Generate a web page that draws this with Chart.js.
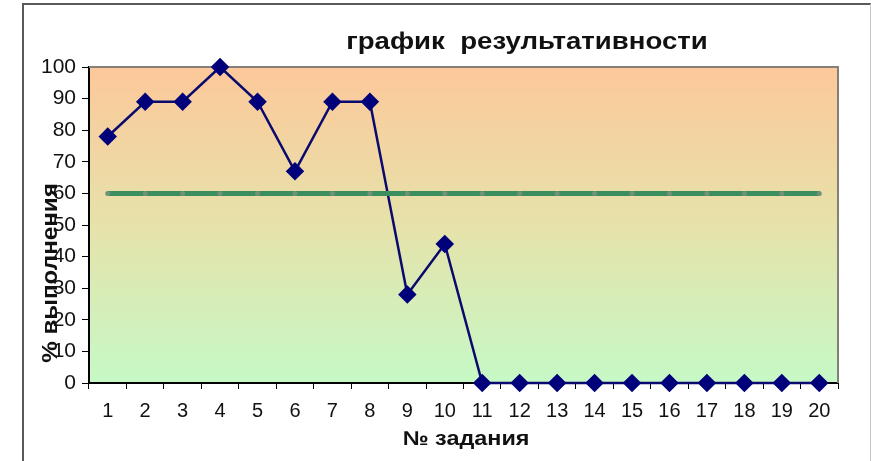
<!DOCTYPE html>
<html>
<head>
<meta charset="utf-8">
<script src="https://cdn.jsdelivr.net/npm/chart.js@4"></script>
<style>
    html, body { margin: 0; padding: 0; background: #ffffff; }
    #wrap { position: relative; width: 871px; height: 461px; }
    #frame { position: absolute; left: 22px; top: 3px; width: 846px; height: 470px;
             border-left: 2px solid #5a5a5a; border-top: 2px solid #5a5a5a; border-right: 1px solid #c8c8c8; }
    canvas { position: absolute; left: 0; top: 0; }
</style>
</head>
<body>
<div id="wrap">
    <div id="frame"></div>
    <canvas id="chart" width="871" height="461"></canvas>
</div>
<script>
// Chart data
var tasks = ["1", "2", "3", "4", "5", "6", "7", "8", "9", "10",
             "11", "12", "13", "14", "15", "16", "17", "18", "19", "20"];
var result = [78, 89, 89, 100, 89, 67, 89, 89, 28, 44, 0, 0, 0, 0, 0, 0, 0, 0, 0, 0];
var norm = [60, 60, 60, 60, 60, 60, 60, 60, 60, 60, 60, 60, 60, 60, 60, 60, 60, 60, 60, 60];
var yTicks = [0, 10, 20, 30, 40, 50, 60, 70, 80, 90, 100];

var titleText = "график  результативности";
var xTitle = "№ задания";
var yTitle = "% выполнения";

// draw text a bit stretched sideways, like the original picture
function wideText(ctx, text, x, y, sx) {
    ctx.save();
    ctx.translate(x, y);
    ctx.scale(sx, 1);
    ctx.fillText(text, 0, 0);
    ctx.restore();
}

// Background gradient + texts drawn on the canvas
var decor = {
    id: "decor",
    beforeDraw: function (chart) {
        var ctx = chart.ctx;
        var a = chart.chartArea;
        var g = ctx.createLinearGradient(0, a.top, 0, a.bottom);
        g.addColorStop(0, "#fdc89a");
        g.addColorStop(0.5, "#e6e2aa");
        g.addColorStop(1, "#c6f9c6");
        ctx.save();
        ctx.fillStyle = g;
        ctx.fillRect(a.left, a.top, a.right - a.left, a.bottom - a.top);
        ctx.restore();
    },
    beforeDatasetsDraw: function (chart) {
        var ctx = chart.ctx;
        var a = chart.chartArea;
        ctx.save();
        // plot border (top/right)
        ctx.strokeStyle = "#857f7a";
        ctx.lineWidth = 2;
        ctx.beginPath();
        ctx.moveTo(a.left, a.top);
        ctx.lineTo(a.right, a.top);
        ctx.lineTo(a.right, a.bottom);
        ctx.stroke();
        ctx.restore();
    },
    afterDraw: function (chart) {
        var ctx = chart.ctx;
        ctx.save();
        ctx.fillStyle = "#111111";
        ctx.textAlign = "center";
        ctx.textBaseline = "middle";
        ctx.font = "bold 23px 'Liberation Sans', Arial, sans-serif";
        wideText(ctx, titleText, 527, 43, 1.2);

        ctx.font = "bold 20px 'Liberation Sans', Arial, sans-serif";
        wideText(ctx, xTitle, 466, 439, 1.17);

        ctx.translate(51, 273);
        ctx.rotate(-Math.PI / 2);
        ctx.font = "bold 22px 'Liberation Sans', Arial, sans-serif";
        wideText(ctx, yTitle, 0, 0, 1.1);
        ctx.restore();
    }
};

new Chart(document.getElementById("chart"), {
    type: "line",
    data: {
        labels: tasks,
        datasets: [{
            label: "норма",
            data: norm,
            borderColor: "#3b8f5e",
            borderWidth: 5,
            pointStyle: "circle",
            pointRadius: 2.5,
            pointBorderWidth: 0,
            pointBackgroundColor: "#72907a",
            clip: false,
            order: 0
        }, {
            label: "результат",
            data: result,
            borderColor: "#0a0a6e",
            borderWidth: 2.5,
            pointStyle: "rectRot",
            pointRadius: 7.5,
            pointBackgroundColor: "#00007a",
            pointBorderColor: "#00007a",
            clip: false,
            order: 1
        }]
    },
    options: {
        responsive: false,
        animation: false,
        layout: { padding: { left: 0, top: 67, right: 33, bottom: 0 } },
        plugins: {
            legend: { display: false },
            title: { display: false },
            tooltip: { enabled: false }
        },
        scales: {
            x: {
                offset: true,
                grid: {
                    offset: true,
                    drawOnChartArea: false,
                    drawTicks: true,
                    tickLength: 6,
                    color: "#000000"
                },
                border: { color: "#000000", width: 2 },
                ticks: {
                    color: "#111111",
                    padding: 10,
                    maxRotation: 0,
                    autoSkip: false,
                    font: { family: "'Liberation Sans', Arial, sans-serif", size: 20 }
                },
                afterFit: function (scale) { scale.height = 78; }
            },
            y: {
                min: 0,
                max: 100,
                afterBuildTicks: function (scale) {
                    scale.ticks = yTicks.map(function (v) { return { value: v }; });
                },
                grid: {
                    drawOnChartArea: false,
                    drawTicks: true,
                    tickLength: 7,
                    color: "#000000"
                },
                border: { color: "#000000", width: 2 },
                ticks: {
                    color: "#111111",
                    padding: 6,
                    font: { family: "'Liberation Sans', Arial, sans-serif", size: 21 }
                },
                afterFit: function (scale) { scale.width = 89; }
            }
        }
    },
    plugins: [decor]
});
</script>
</body>
</html>
